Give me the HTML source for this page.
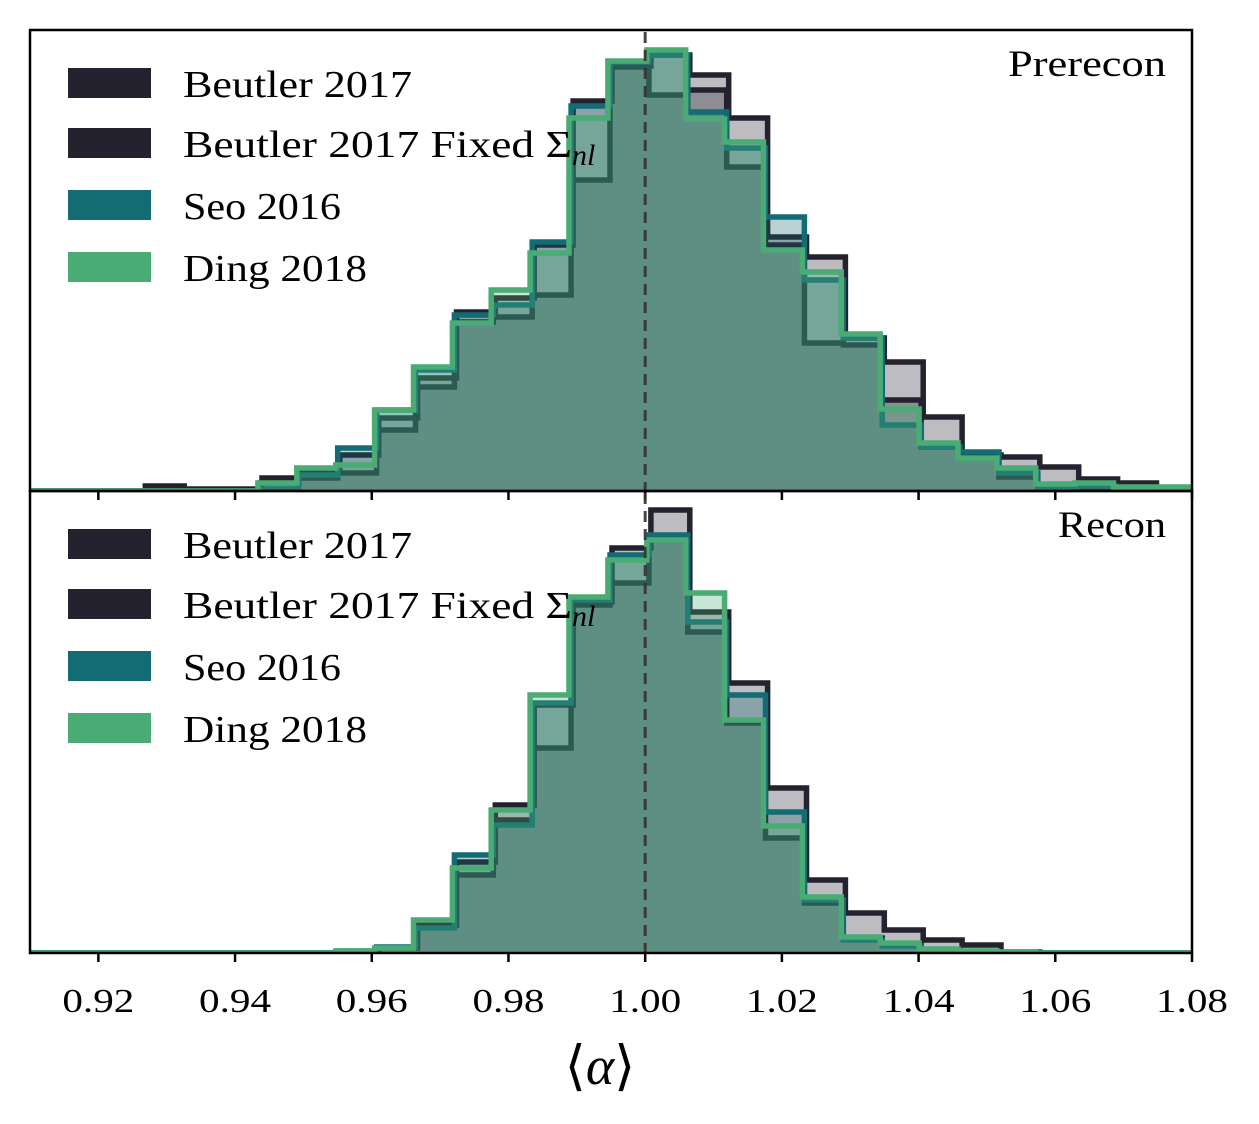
<!DOCTYPE html>
<html><head><meta charset="utf-8">
<style>
html,body{margin:0;padding:0;background:#fff;}
svg{display:block;}
text{font-family:"Liberation Serif","DejaVu Serif",serif;fill:#000;}
</style></head>
<body>
<svg id="chart" width="1259" height="1124" viewBox="0 0 1259 1124" xmlns="http://www.w3.org/2000/svg"></svg>
<script>
// ---- data ----
const binStart = 0.92627;      // left edge of first bin (k = -13)
const binWidth = 0.00569;
const seriesNames = ["Beutler 2017", "Beutler 2017 Fixed", "Seo 2016", "Ding 2018"];
const seriesOffsets = [0.0006, 0.0003, 0.0003, 0];
// Prerecon counts (arbitrary units), bins k=-13..13
const preBeutler = [5,2,2,13,20,36,73,113,179,193,246,390,425,436,416,373,254,234,153,129,74,36,34,24,12,8,3];
const preBeutlerFixed = [0,0,0,8,13,18,61,104,169,174,196,311,424,396,401,324,246,148,146,91,44,38,14,6,3,2,1];
const preSeo = [0,0,0,2,16,43,81,121,176,186,249,385,429,436,379,343,274,211,153,66,44,39,18,4,5,3,1];
const preDing = [0,0,0,8,23,26,81,124,168,201,238,373,430,441,372,349,241,219,157,82,48,33,23,7,8,4,4];
// Recon counts, bins k=-13..13
const recBeutler = [0,0,0,0,0,0,5,28,91,148,248,351,405,443,341,270,165,73,40,23,13,8,1,0,0,0,0];
const recBeutlerFixed = [0,0,0,0,0,1,5,28,78,133,205,348,370,413,321,230,115,50,15,8,3,1,0,0,0,0,0];
const recSeo = [0,0,0,0,0,2,6,25,98,128,250,353,398,418,331,258,141,53,13,7,3,1,0,0,0,0,0];
const recDing = [0,0,0,0,0,2,5,33,85,143,258,356,393,413,360,233,127,56,16,10,4,2,1,0,0,0,0];
const xTicks = [0.92,0.94,0.96,0.98,1.00,1.02,1.04,1.06,1.08];
const xTickLabels = ["0.92","0.94","0.96","0.98","1.00","1.02","1.04","1.06","1.08"];

const colors = ["#24222f","#24222f","#136b73","#4aab74"];
const NS = "http://www.w3.org/2000/svg";
const svg = document.getElementById("chart");
const X0 = 30, X1 = 1192, XMIN = 0.91, XMAX = 1.08;
function xs(v){ return X0 + (v - XMIN) / (XMAX - XMIN) * (X1 - X0); }
function mk(tag, attrs, parent){
  const e = document.createElementNS(NS, tag);
  for (const k in attrs) e.setAttribute(k, attrs[k]);
  (parent || svg).appendChild(e);
  return e;
}
const defs = mk("defs", {});
const panels = [
  {top:30, bottom:491, label:"Prerecon", lw:158, key:"prerecon", data:[preBeutler, preBeutlerFixed, preSeo, preDing]},
  {top:491, bottom:953, label:"Recon", lw:108, key:"recon", data:[recBeutler, recBeutlerFixed, recSeo, recDing]}
];
const legendWidths = [229, 389, 158, 184];
panels.forEach((p, pi) => {
  const g = mk("g", {});
  
  
  const cp = mk("clipPath", {id: "clip" + pi}, defs);
  mk("rect", {x: X0, y: p.top, width: X1 - X0, height: p.bottom - p.top}, cp);
  const ys = v => p.bottom - v;
  const hg = mk("g", {"clip-path": "url(#clip" + pi + ")"}, g);
  p.data.forEach((arr, si) => {
    const a0 = binStart + seriesOffsets[si];
    let d = "M" + (X0 - 10) + "," + ys(0) + " L" + xs(a0).toFixed(1) + "," + ys(0);
    arr.forEach((v, i) => {
      const a = binStart + i * binWidth + seriesOffsets[si];
      const b = a + binWidth;
      d += " L" + xs(a).toFixed(1) + "," + ys(v) + " L" + xs(b).toFixed(1) + "," + ys(v);
    });
    const aEnd = binStart + arr.length * binWidth + seriesOffsets[si];
    d += " L" + xs(aEnd).toFixed(1) + "," + ys(0) + " L" + (X1 + 10) + "," + ys(0);
    const fillPath = mk("path", {d: d + " Z", fill: colors[si], "fill-opacity": 0.3, stroke: "none"}, hg);
    
    
    const line = mk("path", {d: d, fill: "none", stroke: colors[si], "stroke-width": 5.5, "stroke-linejoin": "miter"}, hg);
    
    
  });
  const dl = mk("line", {x1: xs(1.0), x2: xs(1.0), y1: p.top + 2, y2: p.bottom, stroke: "#333", "stroke-width": 3, "stroke-dasharray": "11,7", opacity: 0.9}, g);
  
  
  const fr = mk("rect", {x: X0, y: p.top, width: X1 - X0, height: p.bottom - p.top, fill: "none", stroke: "#000", "stroke-width": 2.5}, g);
  
  
  xTicks.forEach(t => {
    const tk = mk("line", {x1: xs(t), x2: xs(t), y1: p.bottom, y2: p.bottom + 9, stroke: "#000", "stroke-width": 2.5}, g);
    
    
  });
  const lt = mk("text", {x: 1166 - p.lw, y: p.top + 46, "font-size": 37, textLength: p.lw, lengthAdjust: "spacingAndGlyphs"}, g);
  lt.textContent = p.label;
  
  
  const lg = mk("g", {}, g);
  
  
  const rowsY = [38, 98, 160, 222];
  seriesNames.forEach((nm, si) => {
    const ry = p.top + rowsY[si];
    const r = mk("rect", {x: 68, y: ry, width: 83, height: 30, fill: colors[si]}, lg);
    
    
    const tx = mk("text", {x: 183, y: ry + 29, "font-size": 38}, lg);
    
    
    if (si === 1) {
      const main = mk("tspan", {textLength: legendWidths[si], lengthAdjust: "spacingAndGlyphs"}, tx);
      main.textContent = "Beutler 2017 Fixed Σ";
      const sub = mk("tspan", {"font-style": "italic", "font-size": 30, dy: 8}, tx);
      sub.textContent = "nl";
    } else {
      tx.setAttribute("textLength", legendWidths[si]);
      tx.setAttribute("lengthAdjust", "spacingAndGlyphs");
      tx.textContent = nm;
    }
  });
});
xTicks.forEach((t, i) => {
  const tl = mk("text", {x: xs(t), y: 1012, "font-size": 34, "text-anchor": "middle", textLength: 72, lengthAdjust: "spacingAndGlyphs"});
  tl.textContent = xTickLabels[i];
  
  
});
const xl = mk("text", {x: 600, y: 1084, "font-size": 54, "text-anchor": "middle"});


const t1 = mk("tspan", {}, xl); t1.textContent = "⟨";
const t2 = mk("tspan", {"font-style": "italic"}, xl); t2.textContent = "α";
const t3 = mk("tspan", {}, xl); t3.textContent = "⟩";
</script>
</body></html>
